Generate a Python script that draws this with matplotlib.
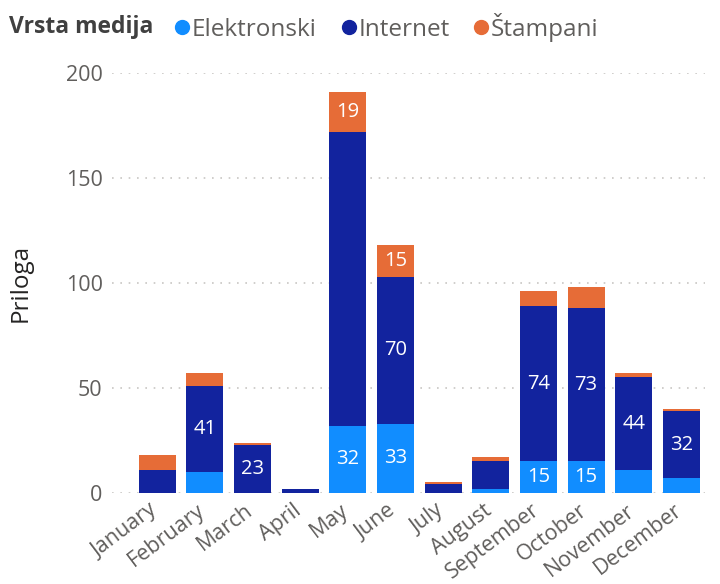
import matplotlib
matplotlib.use("Agg")
import matplotlib.pyplot as plt
from matplotlib.lines import Line2D
from matplotlib.transforms import ScaledTranslation
import numpy as np

plt.rcParams['font.family'] = ['Open Sans', 'DejaVu Sans']

months = ["January", "February", "March", "April", "May", "June", "July",
          "August", "September", "October", "November", "December"]
elektronski = [0, 10, 0, 0, 32, 33, 0, 2, 15, 15, 11, 7]
internet = [11, 41, 23, 2, 140, 70, 4, 13, 74, 73, 44, 32]
stampani = [7, 6, 1, 0, 19, 15, 1, 2, 7, 10, 2, 1]

# which segments carry a value label
show_e = [False, False, False, False, True, True, False, False, True, True, False, False]
show_i = [False, True, True, False, False, True, False, False, True, True, True, True]
show_s = [False, False, False, False, True, True, False, False, False, False, False, False]

series = [
    ("Elektronski", elektronski, "#118DFF", show_e),
    ("Internet", internet, "#12239E", show_i),
    ("Štampani", stampani, "#E66C37", show_s),
]

fig = plt.figure(figsize=(7.2, 5.84), dpi=100)
ax = fig.add_axes([0.156, 0.156, 0.823, 0.719])

x = np.arange(len(months))
bottom = np.zeros(len(months))
for name, vals, color, show in series:
    vals = np.array(vals, dtype=float)
    ax.bar(x, vals, width=0.78, bottom=bottom, color=color, zorder=3)
    for xi, v, b, s in zip(x, vals, bottom, show):
        if s:
            ax.text(xi, b + v / 2, f"{int(v)}", ha="center", va="center",
                    color="white", fontsize=14.5, zorder=4)
    bottom = bottom + vals

ax.set_xlim(-0.94, 11.49)
ax.set_ylim(0, 200)
ax.set_yticks([0, 50, 100, 150, 200])
ax.yaxis.grid(True, color="#C8C6C4", linestyle=(0, (1, 4)), linewidth=1.2, zorder=0)
ax.set_axisbelow(True)
for sp in ax.spines.values():
    sp.set_visible(False)
ax.tick_params(axis="both", length=0, colors="#605E5C", labelsize=15.5)
ax.tick_params(axis="y", pad=7)
ax.set_xticks(x)
ax.set_xticklabels(months, rotation=37, ha="right", rotation_mode="anchor")
ax.tick_params(axis="x", pad=5)
shift = ScaledTranslation(-8 / 100, 0, fig.dpi_scale_trans)
for lbl in ax.get_xticklabels():
    lbl.set_transform(lbl.get_transform() + shift)
ax.set_ylabel("Priloga", fontsize=17.5, color="#252423", labelpad=24)

# legend row
fig.text(0.012, 0.953, "Vrsta medija", fontsize=16.5, fontweight="bold",
         color="#404040", va="center")
handles = [Line2D([], [], marker="o", linestyle="", markersize=10,
                  markerfacecolor=c, markeredgecolor=c) for _, _, c, _ in series]
fig.legend(handles, [n for n, _, _, _ in series], loc="center left",
           bbox_to_anchor=(0.228, 0.953), ncol=3, frameon=False,
           fontsize=17.5, handletextpad=-0.35, columnspacing=0.55,
           handlelength=1.5, labelcolor="#605E5C", borderaxespad=0, borderpad=0)

fig.savefig("out.png", dpi=100)
